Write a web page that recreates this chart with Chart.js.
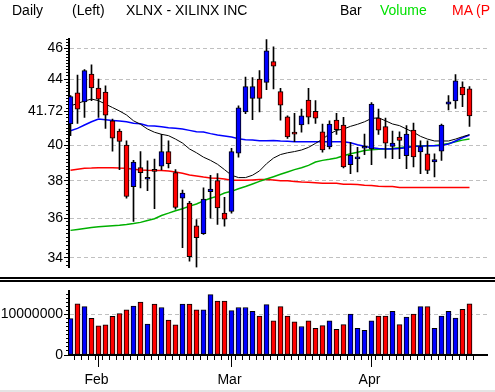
<!DOCTYPE html>
<html><head><meta charset="utf-8">
<script src="https://cdn.jsdelivr.net/npm/chart.js@4.4.1/dist/chart.umd.min.js"></script>
<style>
html,body{margin:0;padding:0;background:#fff;}
#wrap{position:relative;width:495px;height:392px;overflow:hidden;background:#fff;}
.hd{position:absolute;top:2px;font:14px/16px "Liberation Sans",Arial,sans-serif;white-space:nowrap;color:#000;}
canvas{position:absolute;left:0;}
.sep{position:absolute;left:0;width:495px;background:#000;}
</style></head><body>
<div id="wrap">
<canvas id="cPrice" width="495" height="277" style="top:0"></canvas>
<canvas id="cVol" width="495" height="110" style="top:282px"></canvas>
<div class="sep" style="top:277px;height:2px"></div>
<div class="sep" style="top:280px;height:2px"></div>
<div class="sep" style="top:390px;height:2px;background:#e4e4e4"></div>
<div class="hd" style="left:12px">Daily</div>
<div class="hd" style="left:72px">(Left)</div>
<div class="hd" style="left:126px">XLNX - XILINX INC</div>
<div class="hd" style="left:340px">Bar</div>
<div class="hd" style="left:380px;color:#00e000">Volume</div>
<div class="hd" style="left:452px;color:#ff0000">MA (P</div>
</div>
<script>
// ---- data ----
const open  = [41.24,43.13,42.58,44.32,43.44,43.19,41.43,40.82,40.00,37.67,38.72,38.08,38.53,38.81,39.63,38.44,37.05,36.79,35.60,35.20,37.40,38.00,36.26,36.35,39.54,41.96,42.79,44.00,43.79,45.12,43.21,41.67,40.66,41.18,42.69,42.00,40.78,39.89,41.47,41.18,38.89,39.21,39.82,39.78,41.59,41.08,39.93,40.47,39.39,40.88,39.61,39.50,39.04,39.65,42.44,42.63,43.50,43.38];
const high  = [42.96,44.26,44.60,44.92,44.00,43.58,41.53,40.94,40.25,39.13,39.63,39.11,39.20,40.63,40.25,38.61,37.49,36.88,35.92,37.61,38.30,38.39,37.10,39.81,42.33,44.13,44.09,44.54,46.58,46.09,43.42,41.73,41.88,42.13,43.42,42.65,41.24,41.43,41.88,41.63,40.16,39.87,40.65,42.54,42.13,41.59,40.82,40.78,41.14,41.29,40.25,40.25,39.50,41.24,42.96,44.28,43.83,43.52];
const low   = [40.55,41.27,41.63,42.65,41.63,40.98,39.65,38.61,37.05,35.83,37.61,37.46,36.49,38.59,38.70,36.47,34.50,33.83,33.53,35.17,36.00,35.67,35.58,36.26,39.31,41.86,41.49,41.96,43.33,43.38,41.47,40.39,40.20,40.75,41.25,41.27,39.59,39.78,40.63,38.70,38.39,38.48,39.46,38.89,40.63,39.26,39.22,39.22,38.67,38.76,38.39,38.39,38.20,39.13,42.08,42.17,42.29,41.10];
const close = [42.90,42.13,44.54,43.44,42.75,41.76,40.41,40.22,37.14,39.04,38.44,38.10,38.51,39.63,38.94,36.56,37.32,34.05,35.00,37.00,37.54,36.53,35.95,39.63,42.21,43.52,43.52,42.79,45.83,44.82,42.38,40.47,40.64,41.73,41.65,41.59,39.72,41.24,40.90,38.76,39.41,39.23,39.84,42.44,40.88,40.12,40.12,40.27,40.65,39.33,39.91,38.56,39.17,41.18,42.58,43.89,43.00,41.72];
const volume = [8980000,12660000,11950000,9060000,7190000,7420000,9530000,10230000,11170000,12100000,13050000,7660000,12580000,11720000,8590000,7420000,12580000,12580000,11170000,11170000,14920000,13280000,13280000,10940000,11720000,11720000,10780000,9610000,12420000,8440000,11950000,9610000,8200000,7030000,8440000,6560000,7270000,8440000,6330000,7500000,10080000,6560000,6090000,8440000,9610000,9610000,10780000,7500000,9380000,10080000,11950000,11950000,6560000,9610000,10780000,9140000,11250000,12660000];
const maBlack = [42.33,42.48,42.63,42.75,42.65,42.44,42.23,42.02,41.78,41.43,41.22,40.94,40.75,40.63,40.55,40.35,40.12,39.78,39.56,39.31,39.13,38.91,38.61,38.30,38.17,38.17,38.30,38.54,38.94,39.26,39.46,39.56,39.63,39.72,39.87,40.10,40.35,40.65,40.86,40.94,41.10,41.22,41.37,41.57,41.61,41.43,41.24,41.14,40.94,40.75,40.51,40.35,40.24,40.24,40.24,40.35,40.49,40.61];
const maBlue  = [40.84,40.98,41.18,41.37,41.53,41.49,41.45,41.41,41.37,41.29,41.25,41.14,41.12,41.08,41.02,40.98,40.94,40.86,40.78,40.76,40.67,40.59,40.53,40.47,40.37,40.31,40.29,40.25,40.25,40.27,40.24,40.22,40.20,40.20,40.20,40.20,40.20,40.20,40.20,40.20,40.14,40.02,39.93,39.85,39.80,39.78,39.78,39.80,39.85,39.93,39.94,39.96,39.96,39.98,40.06,40.24,40.43,40.59];
const maGreen = [35.37,35.42,35.47,35.52,35.55,35.58,35.61,35.63,35.67,35.72,35.78,35.88,35.97,36.14,36.26,36.39,36.49,36.63,36.74,36.91,37.05,37.16,37.33,37.42,37.56,37.68,37.82,37.96,38.09,38.22,38.35,38.48,38.61,38.72,38.85,39.04,39.13,39.19,39.26,39.39,39.50,39.59,39.69,39.74,39.76,39.78,39.81,39.85,39.91,39.94,39.96,39.96,39.98,40.02,40.10,40.20,40.29,40.35];
const maRed   = [38.57,38.63,38.69,38.70,38.72,38.72,38.72,38.70,38.69,38.63,38.59,38.57,38.56,38.56,38.54,38.48,38.41,38.31,38.26,38.20,38.15,38.13,38.09,38.02,38.02,38.02,38.04,38.06,38.06,38.04,38.00,38.00,37.96,37.93,37.91,37.89,37.86,37.86,37.86,37.81,37.81,37.79,37.75,37.74,37.70,37.68,37.68,37.63,37.63,37.63,37.63,37.63,37.63,37.63,37.63,37.63,37.63,37.63];
const priceTicks = [34,36,38,40,42,44,46];
const priceTickLabels = ['34','36','38','40','41.72','44','46'];
const volumeTicks = [0,10000000];
const volumeTickLabels = ['0','10000000'];
const monthStarts = [4,23,43];
const monthLabels = ['Feb','Mar','Apr'];
const days = open.map((_, i) => i);

// ---- styling ----
const UP = '#0000ff', DOWN = '#ff0000';
const dirColor = i => close[i] >= open[i] ? UP : DOWN;
function hasFont(name){
  const c = document.createElement('canvas').getContext('2d');
  c.font = '20px monospace'; const a = c.measureText('41.72 Feb 10000000').width;
  c.font = '20px "' + name + '", monospace'; const b = c.measureText('41.72 Feb 10000000').width;
  return Math.abs(a - b) > 0.5;
}
const narrow = hasFont('Liberation Sans Narrow');
const axisFont = narrow ? {family:'"Liberation Sans Narrow"', size:17} : {family:'"Liberation Sans", Arial, sans-serif', size:14};
const X_MIN = -0.2143, X_MAX = 59.5, AXIS_W = 69;
const PRICE_MIN = 33.52, PRICE_MAX = 46.62, VOL_MAX = 15700000;
const minorPrice = []; for (let k = 168; k <= 233; k++) minorPrice.push(k / 5);
const minorVol = []; for (let k = 0; k <= 15; k++) minorVol.push(k * 1000000);

const align = p => Math.round(p - 0.5) + 0.5;
const minorTicks = {
  id:'minorTicks',
  afterDraw(chart, args, opts){
    const y = chart.scales.y, ctx = chart.ctx, a = chart.chartArea;
    ctx.save(); ctx.strokeStyle = '#000'; ctx.lineWidth = 1; ctx.beginPath();
    for (const v of opts.values){
      const p = align(y.getPixelForValue(v));
      if (p < a.top - 0.5 || p > a.bottom + 0.5) continue;
      ctx.moveTo(a.left - 3, p); ctx.lineTo(a.left, p);
    }
    ctx.stroke(); ctx.restore();
  }
};
const monthTicks = {
  id:'monthTicks',
  afterDraw(chart, args, opts){
    if (!opts.values) return;
    const x = chart.scales.x, ctx = chart.ctx, a = chart.chartArea;
    ctx.save(); ctx.strokeStyle = '#000'; ctx.lineWidth = 1; ctx.beginPath();
    for (const m of opts.values){
      const p = align(x.getPixelForValue(m));
      ctx.moveTo(p, a.bottom); ctx.lineTo(p, a.bottom + 12);
    }
    ctx.stroke(); ctx.restore();
  }
};

// shared x axis definition (same mapping in both panels)
function xAxis(visible){
  return {
    type:'linear', min:X_MIN, max:X_MAX, offset:false, bounds:'data', grace:0,
    afterFit: s => { s.height = visible ? 37 : 0; },
    afterBuildTicks: s => { s.ticks = days.map(v => ({value:v})); },
    ticks:{display:visible, autoSkip:false, maxRotation:0, minRotation:0, padding:12, labelOffset:-2, color:'#000', font:axisFont,
           callback: v => { const k = monthStarts.indexOf(v); return k < 0 ? '' : monthLabels[k]; }},
    grid:{display:visible, drawOnChartArea:false, tickLength:5, tickColor:'#000', tickWidth:1, tickBorderDash:[]},
    border:{display:visible, color:'#000', width:2}
  };
}

const line = (arr, color, w) => ({type:'line', data: days.map(i => ({x:i, y:arr[i]})), borderColor:color, borderWidth:w, pointRadius:0, tension:0, fill:false, order:2});

new Chart(document.getElementById('cPrice'), {
  type:'bar',
  data:{datasets:[
    {type:'bar', data: days.map(i => ({x:i, y:[open[i], close[i]]})), backgroundColor: days.map(dirColor), borderColor:'#000', borderWidth:1, borderSkipped:false, barThickness:5, minBarLength:2, grouped:false, order:0},
    {type:'bar', data: days.map(i => ({x:i, y:[low[i], high[i]]})), backgroundColor:'#000', borderWidth:0, barThickness:1, grouped:false, order:1},
    line(maBlack, '#000000', 1),
    line(maBlue, '#0000ff', 1.5),
    line(maGreen, '#00b000', 1.5),
    line(maRed, '#ff0000', 1.5)
  ]},
  options:{
    responsive:false, animation:false, devicePixelRatio:1,
    layout:{padding:{left:0, right:8, top:39, bottom:8}},
    plugins:{legend:{display:false}, tooltip:{enabled:false}, minorTicks:{values:minorPrice}},
    scales:{
      x: xAxis(false),
      y:{type:'logarithmic', min:PRICE_MIN, max:PRICE_MAX,
         afterFit: s => { s.width = AXIS_W; },
         afterBuildTicks: s => { s.ticks = priceTicks.map(v => ({value:v})); },
         ticks:{autoSkip:false, padding:1, color:'#000', font:axisFont, callback:(v, i) => priceTickLabels[i]},
         grid:{color:'#c0c0c0', lineWidth:1, tickColor:'#000', tickLength:5, tickWidth:1, tickBorderDash:[]},
         border:{color:'#000', width:2, dash:[4,3]}}
    }
  },
  plugins:[minorTicks]
});

new Chart(document.getElementById('cVol'), {
  type:'bar',
  data:{datasets:[
    {data: days.map(i => ({x:i, y:volume[i]})), backgroundColor: days.map(dirColor), borderColor:'#000', borderWidth:1, borderSkipped:false, barThickness:5, grouped:false}
  ]},
  options:{
    responsive:false, animation:false, devicePixelRatio:1,
    layout:{padding:{left:0, right:8, top:6, bottom:0}},
    plugins:{legend:{display:false}, tooltip:{enabled:false}, minorTicks:{values:minorVol}, monthTicks:{values:monthStarts}},
    scales:{
      x: xAxis(true),
      y:{type:'linear', min:0, max:VOL_MAX,
         afterFit: s => { s.width = AXIS_W; },
         afterBuildTicks: s => { s.ticks = volumeTicks.map(v => ({value:v})); },
         ticks:{autoSkip:false, padding:1, color:'#000', font:axisFont, callback:(v, i) => volumeTickLabels[i]},
         grid:{color: c => (c.tick && c.tick.value === 0) ? 'rgba(0,0,0,0)' : '#c0c0c0', tickColor:'#000', tickLength:5, tickWidth:1, tickBorderDash:[]},
         border:{color:'#000', width:2, dash:[4,3]}}
    }
  },
  plugins:[minorTicks, monthTicks]
});
</script>
</body></html>
